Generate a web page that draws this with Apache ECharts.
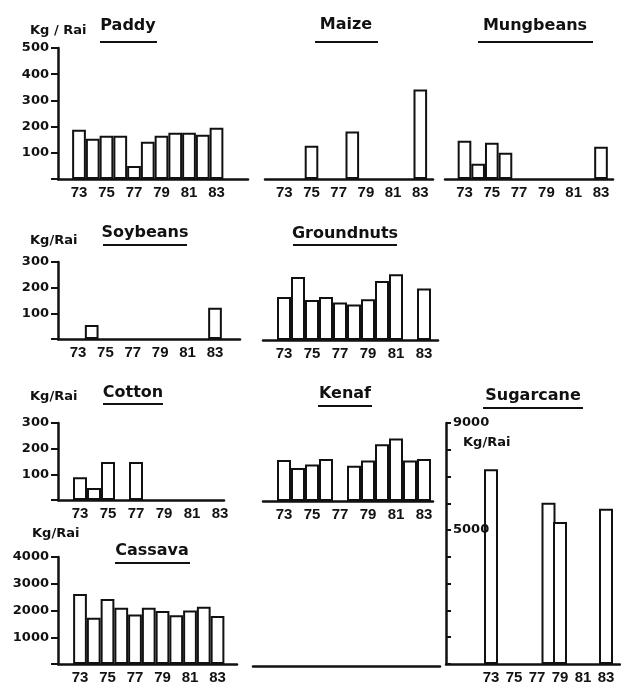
<!DOCTYPE html>
<html>
<head>
<meta charset="utf-8">
<script src="https://cdn.jsdelivr.net/npm/echarts@6/dist/echarts.min.js"></script>
<style>
  html, body { margin: 0; padding: 0; background: #fff; }
  #chart { width: 621px; height: 685px; }
</style>
</head>
<body>
<div id="chart"></div>
<script>
// Crop years and average yields (kg per rai); null = no bar for that year
const years = [73, 74, 75, 76, 77, 78, 79, 80, 81, 82, 83];
const yearTicks = [73, 75, 77, 79, 81, 83];

const paddy      = [188, 154, 165, 165, 50, 142, 165, 177, 177, 169, 196];
const maize      = [null, null, 127, null, null, 181, null, null, null, null, 342];
const mungbeans  = [146, 58, 138, 100, null, null, null, null, null, null, 123];
const soybeans   = [null, 55, null, null, null, null, null, null, null, null, 122];
const groundnuts = [165, 242, 154, 165, 144, 137, 157, 227, 253, null, 198];
const cotton     = [89, 47, 148, null, 148, null, null, null, null, null, null];
const kenaf      = [158, 127, 140, 162, null, 136, 156, 218, 240, 156, 162];
const cassava    = [2620, 1730, 2430, 2100, 1850, 2100, 1980, 1820, 2000, 2140, 1790];
const sugarcane  = [7270, null, null, null, null, 6020, 5300, null, null, null, 5800];

const ticks500  = [100, 200, 300, 400, 500];
const ticks300  = [100, 200, 300];
const ticks4000 = [1000, 2000, 3000, 4000];
const ticks9000 = [5000, 9000];

const INK = '#111';
const yearFont = '"Liberation Sans Narrow", "Liberation Sans", Arial, sans-serif';
const labelFont = '"DejaVu Sans", sans-serif';

// Panel layout: x0/x1 axis extent, c73 centre of year 73, w pixels per year
const panels = [
  { data: paddy,      x0: 58,  x1: 248, c73: 79,    w: 13.75, top: 48,  bottom: 179, ymax: 500,  yTicks: ticks500,  step: 100 },
  { data: maize,      x0: 265, x1: 433, c73: 284.3, w: 13.6,  top: 48,  bottom: 179, ymax: 500 },
  { data: mungbeans,  x0: 445, x1: 613, c73: 464.5, w: 13.65, top: 48,  bottom: 179, ymax: 500 },
  { data: soybeans,   x0: 58,  x1: 240, c73: 78,    w: 13.7,  top: 262, bottom: 339, ymax: 300,  yTicks: ticks300,  step: 100 },
  { data: groundnuts, x0: 263, x1: 438, c73: 284,   w: 14.0,  top: 262, bottom: 340, ymax: 300 },
  { data: cotton,     x0: 58,  x1: 224, c73: 80,    w: 14.0,  top: 423, bottom: 500, ymax: 300,  yTicks: ticks300,  step: 100 },
  { data: kenaf,      x0: 263, x1: 433, c73: 284,   w: 14.0,  top: 423, bottom: 501, ymax: 300 },
  { data: cassava,    x0: 58,  x1: 237, c73: 80,    w: 13.75, top: 557, bottom: 665, ymax: 4000, yTicks: ticks4000, step: 1000 },
  { data: null,       x0: 253, x1: 440, c73: 270,   w: 14.0,  top: 600, bottom: 666, ymax: 100, noLabels: true },
  { data: sugarcane,  x0: 446, x1: 620, c73: 491,   w: 11.5,  top: 423, bottom: 665, ymax: 9000, yTicks: ticks9000, step: 1000, inside: true, barW: 14 }
];

const grid = [], xAxis = [], yAxis = [], series = [];

panels.forEach((p, i) => {
  grid.push({ left: p.x0, top: p.top, width: p.x1 - p.x0, height: p.bottom - p.top, containLabel: false });

  xAxis.push({
    type: 'value', gridIndex: i,
    min: 73 - (p.c73 - p.x0) / p.w,
    max: 73 + (p.x1 - p.c73) / p.w,
    axisLine: { show: true, onZero: false, lineStyle: { color: INK, width: 2.5 } },
    axisTick: { show: false },
    splitLine: { show: false },
    axisLabel: p.noLabels ? { show: false } : {
      show: true, customValues: yearTicks, margin: 6,
      color: INK, fontFamily: yearFont, fontWeight: 'bold', fontSize: 15,
      formatter: v => String(v)
    }
  });

  const hasY = !!p.yTicks;
  yAxis.push({
    type: 'value', gridIndex: i, min: 0, max: p.ymax,
    interval: p.step || p.ymax,
    z: 5,
    axisLine: { show: hasY, lineStyle: { color: INK, width: 2.5 } },
    axisTick: { show: hasY, inside: !!p.inside, length: p.inside ? 5 : 7, lineStyle: { color: INK, width: 2 } },
    splitLine: { show: false },
    axisLabel: {
      show: hasY, inside: !!p.inside, margin: p.inside ? 7 : 9,
      color: INK, fontFamily: labelFont, fontWeight: 'bold', fontSize: 13,
      formatter: v => (hasY && p.yTicks.indexOf(v) >= 0 ? String(v) : '')
    }
  });

  if (p.data) {
    series.push({
      type: 'bar', xAxisIndex: i, yAxisIndex: i, z: 2,
      barWidth: p.barW || p.w,
      data: years.map((y, k) => [y, p.data[k]]).filter(d => d[1] != null),
      itemStyle: { color: '#fff', borderColor: INK, borderWidth: 2 },
      silent: true, animation: false
    });
  }
});

// Crop names (underlined) and unit captions
const titleFont = 'bold 16px "DejaVu Sans", sans-serif';
const unitFont = 'bold 13px "DejaVu Sans", sans-serif';
const titles = [
  { text: 'Paddy',      cx: 128, cy: 26,  ux1: 100, ux2: 157, uy: 42 },
  { text: 'Maize',      cx: 346, cy: 25,  ux1: 315, ux2: 378, uy: 42 },
  { text: 'Mungbeans',  cx: 535, cy: 26,  ux1: 478, ux2: 593, uy: 42 },
  { text: 'Soybeans',   cx: 145, cy: 233, ux1: 103, ux2: 187, uy: 245 },
  { text: 'Groundnuts', cx: 345, cy: 234, ux1: 293, ux2: 397, uy: 245 },
  { text: 'Cotton',     cx: 133, cy: 393, ux1: 103, ux2: 163, uy: 404 },
  { text: 'Kenaf',      cx: 345, cy: 394, ux1: 318, ux2: 372, uy: 406 },
  { text: 'Sugarcane',  cx: 533, cy: 396, ux1: 483, ux2: 583, uy: 408 },
  { text: 'Cassava',    cx: 152, cy: 551, ux1: 115, ux2: 190, uy: 563 }
];
const units = [
  { text: 'Kg / Rai', x: 30,  y: 31 },
  { text: 'Kg/Rai',   x: 30,  y: 241 },
  { text: 'Kg/Rai',   x: 30,  y: 397 },
  { text: 'Kg/Rai',   x: 32,  y: 534 },
  { text: 'Kg/Rai',   x: 463, y: 443 }
];

const graphic = [];
titles.forEach(t => {
  graphic.push({ type: 'text', x: t.cx, y: t.cy, silent: true,
    style: { text: t.text, font: titleFont, fill: INK,
             align: 'center', verticalAlign: 'middle', textAlign: 'center', textVerticalAlign: 'middle' } });
  graphic.push({ type: 'line', silent: true,
    shape: { x1: t.ux1, y1: t.uy, x2: t.ux2, y2: t.uy },
    style: { stroke: INK, lineWidth: 2 } });
});
units.forEach(u => {
  graphic.push({ type: 'text', x: u.x, y: u.y, silent: true,
    style: { text: u.text, font: unitFont, fill: INK,
             align: 'left', verticalAlign: 'middle', textAlign: 'left', textVerticalAlign: 'middle' } });
});

const chart = echarts.init(document.getElementById('chart'), null, { renderer: 'canvas' });
chart.setOption({
  backgroundColor: '#fff',
  animation: false,
  grid, xAxis, yAxis, series, graphic
});
</script>
</body>
</html>
